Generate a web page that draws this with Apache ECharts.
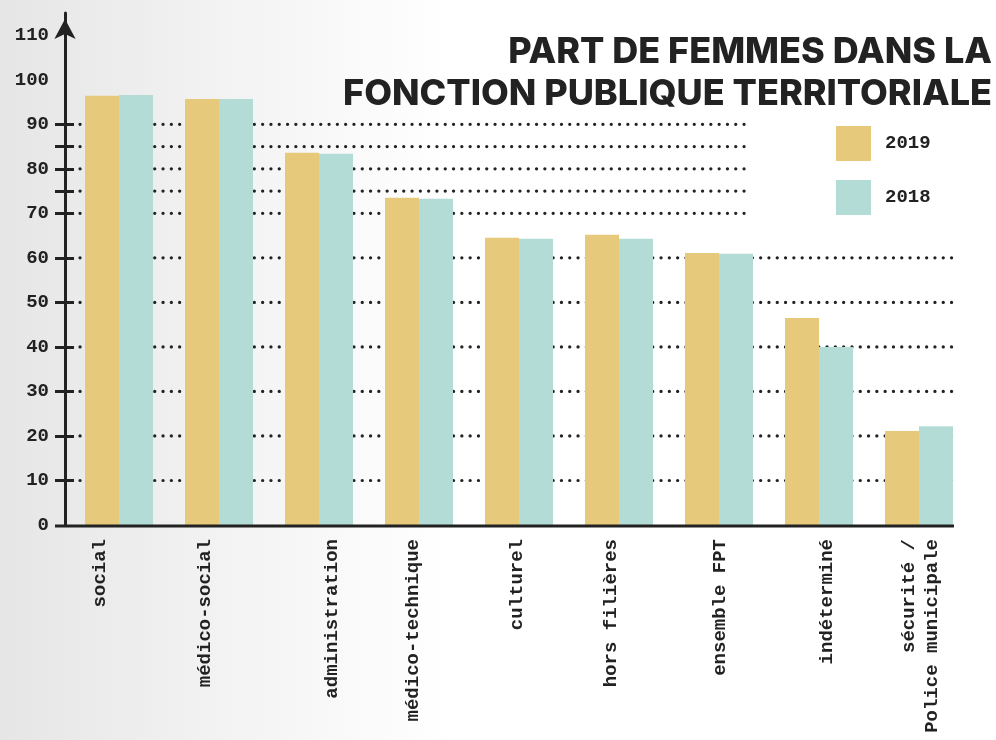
<!DOCTYPE html>
<html>
<head>
<meta charset="utf-8">
<script src="https://cdn.jsdelivr.net/npm/echarts@6/dist/echarts.min.js"></script>
<style>
  html, body { margin: 0; padding: 0; }
  #chart { width: 996px; height: 740px; }
</style>
</head>
<body>
<div id="chart"></div>
<script>
// données
const titleLines = ['PART DE FEMMES DANS LA', 'FONCTION PUBLIQUE TERRITORIALE'];
const categories = ['social', 'médico-social', 'administration', 'médico-technique', 'culturel',
  'hors filières', 'ensemble FPT', 'indéterminé', 'sécurité /\nPolice municipale'];
const values2019 = [96.4, 95.7, 83.6, 73.5, 64.5, 65.2, 61.1, 46.5, 21.1];
const values2018 = [96.6, 95.7, 83.4, 73.3, 64.3, 64.3, 60.9, 40.0, 22.2];
const yLabelValues = [0, 10, 20, 30, 40, 50, 60, 70, 80, 90, 100, 110];
const yTickValues = [10, 20, 30, 40, 50, 60, 70, 75, 80, 85, 90];
const gridShort = [90, 85, 80, 75, 70];
const gridLong = [60, 50, 40, 30, 20, 10];

// décalage horizontal des étiquettes (px, négatif = vers la gauche)
const labelShift = [-19, -14, 13, -6, -2, -8, 1, 8, 2];

const mono = '"Liberation Mono", "DejaVu Sans Mono", monospace';
const ink = '#222222';

const chart = echarts.init(document.getElementById('chart'));

// un style riche par catégorie pour reproduire le placement des étiquettes
const labelRich = {};
labelShift.forEach((s, i) => {
  labelRich['c' + i] = {
    fontFamily: mono,
    fontWeight: 'bold',
    fontSize: 19,
    lineHeight: 23,
    color: ink,
    padding: s < 0 ? [0, 0, -2 * s, 0] : [2 * s, 0, 0, 0]
  };
});

// une ligne de titre = un composant titre, aligné à droite
const titles = titleLines.map((t, i) => ({
  text: t,
  right: 4,
  top: 31 + i * 42,
  padding: 0,
  textStyle: {
    fontFamily: 'Inter, Roboto, sans-serif',
    fontWeight: 800,
    fontSize: 36,
    lineHeight: 42,
    color: ink
  }
}));

const option = {
  backgroundColor: {
    type: 'linear', x: 0, y: 0, x2: 1, y2: 0,
    colorStops: [
      { offset: 0, color: '#e6e6e6' },
      { offset: 0.45, color: '#ffffff' },
      { offset: 1, color: '#ffffff' }
    ]
  },
  animation: false,
  title: titles,
  legend: {
    orient: 'vertical',
    left: 836,
    top: 126,
    padding: 0,
    itemWidth: 35,
    itemHeight: 35,
    itemGap: 19,
    icon: 'rect',
    textStyle: {
      fontFamily: mono,
      fontWeight: 'bold',
      fontSize: 19,
      color: ink,
      padding: [0, 0, 0, 9]
    },
    data: ['2019', '2018']
  },
  grid: { left: 69, width: 900, top: 13, bottom: 215 },
  xAxis: {
    type: 'category',
    data: categories,
    axisLine: { show: false },
    axisTick: { show: false },
    axisLabel: {
      interval: 0,
      rotate: 90,
      margin: 14,
      fontFamily: mono,
      fontWeight: 'bold',
      fontSize: 19,
      lineHeight: 23,
      color: ink,
      formatter: (value, index) => value.split('\n').map(l => '{c' + index + '|' + l + '}').join('\n'),
      rich: labelRich
    }
  },
  yAxis: [
    {
      type: 'value',
      min: 0,
      max: 115,
      offset: 4,
      splitLine: { show: false },
      axisLine: {
        show: true,
        symbol: ['none', 'arrow'],
        symbolSize: [16, 20],
        symbolOffset: [0, -6],
        lineStyle: { color: ink, width: 3 }
      },
      axisTick: {
        show: true,
        length: 10,
        customValues: yTickValues,
        lineStyle: { color: ink, width: 3 }
      },
      axisLabel: {
        customValues: yLabelValues,
        margin: 16,
        fontFamily: mono,
        fontWeight: 'bold',
        fontSize: 19,
        color: ink
      }
    },
    {
      type: 'value',
      min: 0,
      max: 115,
      position: 'left',
      offset: 4,
      splitLine: { show: false },
      axisLine: { show: false },
      axisLabel: { show: false },
      axisTick: {
        show: true,
        inside: true,
        length: 9,
        customValues: yTickValues,
        lineStyle: { color: ink, width: 3 }
      }
    }
  ],
  series: [
    {
      name: '2019',
      type: 'bar',
      data: values2019,
      barWidth: 34,
      barGap: '0%',
      itemStyle: { color: '#e6c97a' },
      z: 3
    },
    {
      name: '2018',
      type: 'bar',
      data: values2018,
      barWidth: 34,
      barGap: '0%',
      itemStyle: { color: '#b3dcd6' },
      z: 3
    }
  ]
};

chart.setOption(option);

// lignes pointillées et axe horizontal, placés via l'échelle de l'axe Y
const yPx = v => chart.convertToPixel({ yAxisIndex: 0 }, v);
const dotStyle = { stroke: ink, lineWidth: 3.2, lineDash: [0.1, 8.2], lineCap: 'round' };
const graphics = [];
gridShort.forEach(v => {
  graphics.push({ type: 'line', z: 1, shape: { x1: 80, y1: yPx(v), x2: 752, y2: yPx(v) }, style: dotStyle, silent: true });
});
gridLong.forEach(v => {
  graphics.push({ type: 'line', z: 1, shape: { x1: 80, y1: yPx(v), x2: 956, y2: yPx(v) }, style: dotStyle, silent: true });
});
const y0 = yPx(0) + 1;
graphics.push({ type: 'line', z: 10, shape: { x1: 55, y1: y0, x2: 954, y2: y0 }, style: { stroke: ink, lineWidth: 3 }, silent: true });

chart.setOption({ graphic: graphics });

window.addEventListener('resize', () => chart.resize());
</script>
</body>
</html>
